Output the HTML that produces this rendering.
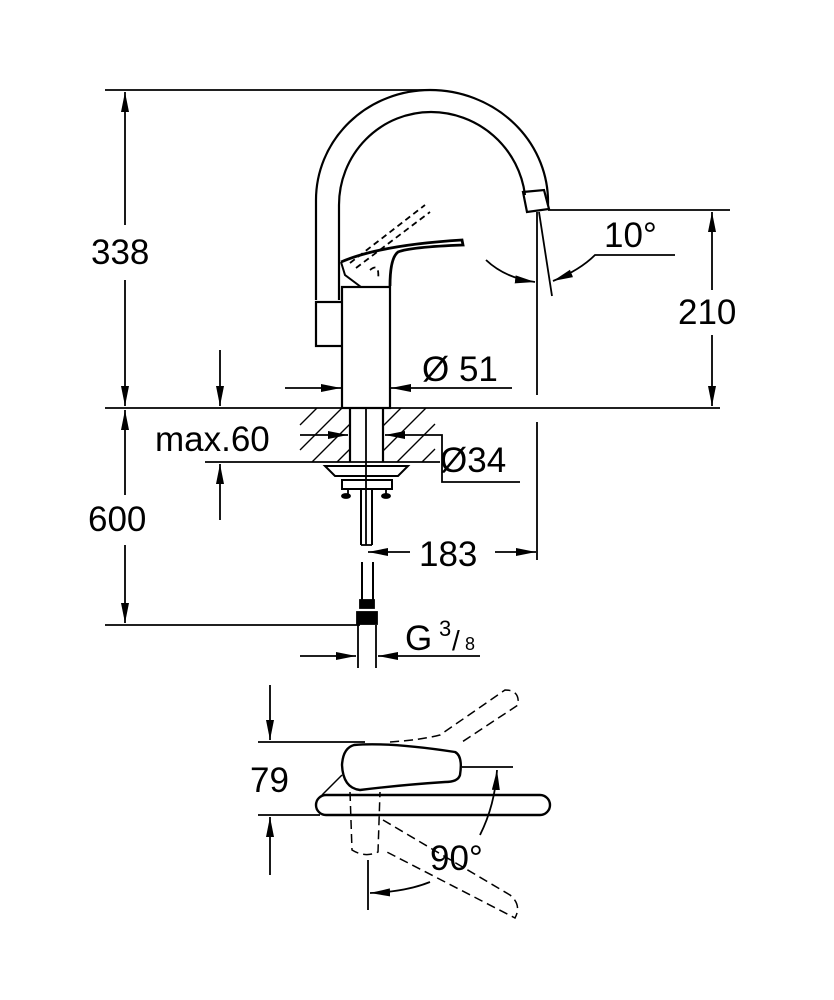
<!DOCTYPE html>
<html><head><meta charset="utf-8"><style>
html,body{margin:0;padding:0;background:#fff}
svg{display:block}
text{font-family:"Liberation Sans",sans-serif;fill:#000}
</style></head><body>
<svg width="834" height="1000" viewBox="0 0 834 1000" xmlns="http://www.w3.org/2000/svg">
<defs>
<marker id="a" viewBox="0 0 20 10" refX="20" refY="5" markerWidth="20" markerHeight="10" markerUnits="userSpaceOnUse" orient="auto"><path d="M0,1 L20,5 L0,9 z" fill="#000"/></marker>
</defs>
<g stroke="#000" fill="none" stroke-width="1.8">
<line x1="105" y1="90" x2="430" y2="90"/>
<line x1="125" y1="225" x2="125" y2="92" marker-end="url(#a)"/>
<line x1="125" y1="280" x2="125" y2="406" marker-end="url(#a)"/>
<line x1="105" y1="408" x2="720" y2="408"/>
<line x1="125" y1="495" x2="125" y2="410" marker-end="url(#a)"/>
<line x1="125" y1="545" x2="125" y2="623" marker-end="url(#a)"/>
<line x1="105" y1="625" x2="360" y2="625"/>
<!-- 210 -->
<line x1="548" y1="210" x2="730" y2="210"/>
<line x1="712" y1="290" x2="712" y2="212" marker-end="url(#a)"/>
<line x1="712" y1="335" x2="712" y2="406" marker-end="url(#a)"/>
<!-- 10 deg -->
<line x1="537" y1="212" x2="537" y2="395"/>
<line x1="539" y1="212" x2="552" y2="296"/>
<path d="M486,260 Q505,278 535,282" marker-end="url(#a)"/>
<path d="M675,255 L595,255 Q580,270 553,281" marker-end="url(#a)"/>
<!-- spout -->
<path d="M316,300 L316,200 A114,110 0 0 1 430,90 A118,112 0 0 1 548,205" stroke-width="2.2"/>
<path d="M339,300 L339,205 A92,93 0 0 1 431,112 A95,95 0 0 1 525,195" stroke-width="2.2"/>
<path d="M523,192 L544,190 L549,209 L527,212 Z" stroke-width="2.2"/>
<rect x="316" y="302" width="41" height="44" stroke-width="2.2"/>
<rect x="342" y="287" width="48" height="121" fill="#fff" stroke-width="2.2"/>
<!-- lever -->
<path d="M341,262 Q380,245 462,240 L463,245 Q410,247 398,252 Q390,258 390,286" stroke-width="2.8"/>
<path d="M341,262 L345,275 L361,287" stroke-width="2"/>
<path d="M350,263 L425,205 M356,268 L430,212 M370,270 Q380,262 378,280" stroke-dasharray="6,4"/>
<!-- Ø51 -->
<line x1="285" y1="388" x2="341" y2="388" marker-end="url(#a)"/>
<line x1="512" y1="388" x2="391" y2="388" marker-end="url(#a)"/>
<!-- max.60 -->
<line x1="220" y1="350" x2="220" y2="406" marker-end="url(#a)"/>
<line x1="220" y1="520" x2="220" y2="464" marker-end="url(#a)"/>
<line x1="205" y1="462" x2="440" y2="462"/>
<!-- hatching -->
<g stroke-width="1.3">
<line x1="300" y1="425" x2="317" y2="408"/><line x1="300" y1="450" x2="342" y2="408"/>
<line x1="312" y1="462" x2="350" y2="424"/><line x1="337" y1="462" x2="350" y2="449"/>
<line x1="383" y1="426" x2="401" y2="408"/><line x1="383" y1="451" x2="426" y2="408"/>
<line x1="397" y1="462" x2="435" y2="424"/><line x1="422" y1="462" x2="435" y2="449"/>
</g>
<line x1="350" y1="408" x2="350" y2="462" stroke-width="2.2"/>
<line x1="383" y1="408" x2="383" y2="462" stroke-width="2.2"/>
<line x1="366" y1="408" x2="366" y2="545"/>
<line x1="300" y1="435" x2="348" y2="435" marker-end="url(#a)"/>
<line x1="435" y1="435" x2="385" y2="435" marker-end="url(#a)"/>
<path d="M435,435 L442,435 L442,482 L520,482"/>
<!-- flange and pipe -->
<path d="M325,466 L335,476 L398,476 L408,466 Z" stroke-width="2"/>
<rect x="342" y="480" width="50" height="9" stroke-width="2"/>
<line x1="348" y1="489" x2="348" y2="496"/><line x1="386" y1="489" x2="386" y2="496"/>
<ellipse cx="346" cy="496" rx="4" ry="2" fill="#000"/><ellipse cx="386" cy="496" rx="4" ry="2" fill="#000"/>
<line x1="361" y1="490" x2="361" y2="545" stroke-width="2"/>
<line x1="372" y1="490" x2="372" y2="545" stroke-width="2"/>
<line x1="361" y1="545" x2="372" y2="545"/>
<line x1="362" y1="562" x2="362" y2="602" stroke-width="2"/>
<line x1="373" y1="562" x2="373" y2="602" stroke-width="2"/>
<rect x="360" y="600" width="14" height="8" fill="#000"/>
<rect x="357" y="612" width="20" height="12" fill="#000"/>
<line x1="358" y1="625" x2="358" y2="668"/><line x1="376" y1="625" x2="376" y2="668"/>
<!-- 183 -->
<line x1="410" y1="552" x2="368" y2="552" marker-end="url(#a)"/>
<line x1="495" y1="552" x2="536" y2="552" marker-end="url(#a)"/>
<line x1="537" y1="422" x2="537" y2="560"/>
<!-- G3/8 -->
<line x1="300" y1="656" x2="356" y2="656" marker-end="url(#a)"/>
<line x1="480" y1="656" x2="378" y2="656" marker-end="url(#a)"/>
<!-- bottom view -->
<line x1="270" y1="685" x2="270" y2="740" marker-end="url(#a)"/>
<line x1="270" y1="875" x2="270" y2="817" marker-end="url(#a)"/>
<line x1="258" y1="742" x2="365" y2="742"/>
<line x1="258" y1="815" x2="320" y2="815"/>
<path d="M326,795 L540,795 A10,10 0 0 1 540,815 L326,815 A10,10 0 0 1 326,795 Z" stroke-width="2.4"/>
<path d="M354,745 Q390,742 455,752 Q463,756 460,775 Q458,782 445,782 Q400,785 360,790 Q343,788 342,765 Q343,748 354,745 Z" fill="#fff" stroke-width="2.4"/>
<path d="M342,775 L322,795" stroke-width="1.5"/>
<line x1="462" y1="767" x2="513" y2="767"/>
<path d="M480,835 Q495,805 497,770" marker-end="url(#a)"/>
<line x1="368" y1="860" x2="368" y2="910"/>
<path d="M430,882 Q405,892 370,893" marker-end="url(#a)"/>
<g stroke-dasharray="9,5" stroke-width="1.5">
<path d="M390,742 Q420,740 440,735 L505,690 Q520,690 518,705 L462,742"/>
<path d="M350,792 L352,850 Q365,858 378,852 L380,792"/>
<path d="M383,820 L510,895 Q522,905 515,918 L383,850"/>
</g>
</g>
<g font-size="35">
<text x="91" y="264">338</text>
<text x="88" y="531">600</text>
<text x="678" y="324">210</text>
<text x="604" y="247">10°</text>
<text x="155" y="451">max.60</text>
<text x="422" y="381">Ø 51</text>
<text x="440" y="472">Ø34</text>
<text x="419" y="566">183</text>
<text x="405" y="650">G</text>
<text x="439" y="636" font-size="22">3</text>
<text x="452" y="650" font-size="28">/</text>
<text x="465" y="650" font-size="18">8</text>
<text x="250" y="792">79</text>
<text x="430" y="870">90°</text>
</g>
</svg>
</body></html>
